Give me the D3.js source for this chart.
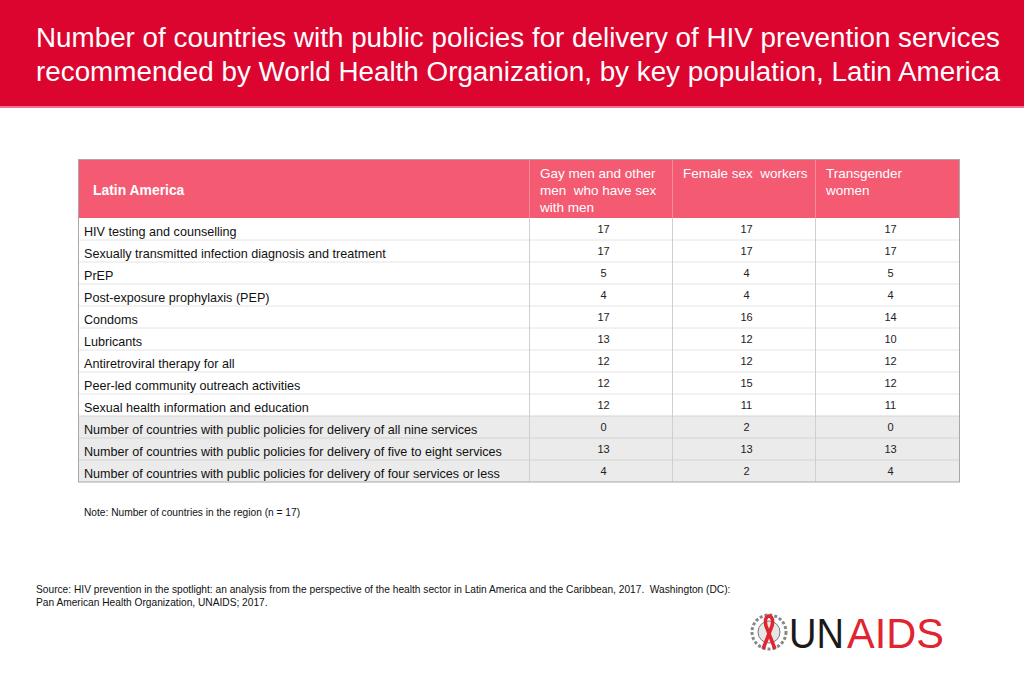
<!DOCTYPE html>
<html><head><meta charset="utf-8">
<script src="https://cdn.jsdelivr.net/npm/d3@7"></script>
<style>body{margin:0;background:#fff}svg{display:block}text{white-space:pre}</style>
</head><body>
<svg id="c" width="1024" height="683"></svg>
<script>
const titleLines = ["Number of countries with public policies for delivery of HIV prevention services",
  "recommended by World Health Organization, by key population, Latin America"];
const regionLabel = "Latin America";
const columns = [["Gay men and other","men  who have sex","with men"],["Female sex  workers"],["Transgender","women"]];
const services = ["HIV testing and counselling","Sexually transmitted infection diagnosis and treatment","PrEP",
  "Post-exposure prophylaxis (PEP)","Condoms","Lubricants","Antiretroviral therapy for all",
  "Peer-led community outreach activities","Sexual health information and education",
  "Number of countries with public policies for delivery of all nine services",
  "Number of countries with public policies for delivery of five to eight services",
  "Number of countries with public policies for delivery of four services or less"];
const msm = [17,17,5,4,17,13,12,12,12,0,13,4];
const fsw = [17,17,4,4,16,12,12,15,11,2,13,2];
const tgw = [17,17,5,4,14,10,12,12,11,0,13,4];
const summaryFrom = 9;
const note = "Note: Number of countries in the region (n = 17)";
const sourceLines = ["Source: HIV prevention in the spotlight: an analysis from the perspective of the health sector in Latin America and the Caribbean, 2017.  Washington (DC):",
  "Pan American Health Organization, UNAIDS; 2017."];

const svg = d3.select("#c");
const F = "Liberation Sans, Arial, sans-serif";

// banner
svg.append("rect").attr("x",0).attr("y",0).attr("width",1024).attr("height",106).attr("fill","#dc0530");
svg.append("rect").attr("x",0).attr("y",106).attr("width",1024).attr("height",2).attr("fill","#f5738a");
svg.selectAll("text.title").data(titleLines).join("text").attr("class","title")
  .attr("x",36).attr("y",(d,i)=>47+i*34).attr("fill","#fff").attr("font-family",F).attr("font-size",27)
  .attr("textLength",964).attr("lengthAdjust","spacingAndGlyphs").text(d=>d);

// table geometry via scales
const tableX = d3.scaleOrdinal().domain([0,1,2,3]).range([78,529,672,815]);
const colW = [451,143,143,145];
const headerTop = 160, headerH = 58;
const y = d3.scaleBand().domain(d3.range(services.length)).range([218,482]);

// header
svg.append("rect").attr("x",78).attr("y",headerTop).attr("width",882).attr("height",headerH).attr("fill","#f45a72");
svg.append("text").attr("x",93).attr("y",195).attr("fill","#fff").attr("font-family",F).attr("font-size",13.9)
  .attr("font-weight","bold").text(regionLabel);
columns.forEach((lines,ci)=>{
  svg.append("g").selectAll("text").data(lines).join("text")
   .attr("x",tableX(ci+1)+11).attr("y",(d,i)=>178+i*17).attr("fill","#fff")
   .attr("font-family",F).attr("font-size",13.5).text(d=>d);
});

// rows
const rows = svg.append("g");
services.forEach((s,i)=>{
  rows.append("rect").attr("x",78).attr("y",y(i)).attr("width",882).attr("height",y.bandwidth())
    .attr("fill", i>=summaryFrom ? "#ebebeb" : "#ffffff");
  rows.append("text").attr("x",84).attr("y",y(i)+y.bandwidth()/2+6.5).attr("font-family",F).attr("font-size",12.6)
    .attr("fill","#111").text(s);
  [msm,fsw,tgw].forEach((arr,ci)=>{
    const cx = tableX(ci+1)+colW[ci+1]/2+3;
    rows.append("text").attr("x",cx).attr("y",y(i)+y.bandwidth()/2+4).attr("text-anchor","middle")
      .attr("font-family",F).attr("font-size",11).attr("fill","#222").text(arr[i]);
  });
  if(i>0) rows.append("line").attr("x1",78).attr("x2",960).attr("y1",y(i)).attr("y2",y(i))
    .attr("stroke", i>=summaryFrom ? "#d4d4d4" : "#e4e4e4").attr("stroke-width",1);
});
// column separators
[1,2,3].forEach(ci=>{
  svg.append("line").attr("x1",tableX(ci)+0.5).attr("x2",tableX(ci)+0.5).attr("y1",218).attr("y2",482)
    .attr("stroke","#cfcfcf");
  svg.append("line").attr("x1",tableX(ci)+0.5).attr("x2",tableX(ci)+0.5).attr("y1",headerTop).attr("y2",218)
    .attr("stroke","#f78a9a");
});
svg.append("rect").attr("x",78.5).attr("y",headerTop-0.5).attr("width",881).attr("height",482-headerTop+0.5)
  .attr("fill","none").attr("stroke","#a8a8a8");

// note and source
svg.append("text").attr("x",84).attr("y",516).attr("font-family",F).attr("font-size",10.2).attr("fill","#111").text(note);
svg.selectAll("text.src").data(sourceLines).join("text").attr("class","src")
  .attr("x",36).attr("y",(d,i)=>593+i*13).attr("font-family",F).attr("font-size",10.2).attr("fill","#111").text(d=>d);

// logo
const lg = svg.append("g");
lg.append("circle").attr("cx",769).attr("cy",632).attr("r",17).attr("fill","none").attr("stroke","#888").attr("stroke-width",3)
  .attr("stroke-dasharray","3,2");
lg.append("circle").attr("cx",769).attr("cy",632).attr("r",11).attr("fill","#e6e6e6").attr("stroke","#777").attr("stroke-width",1);
lg.append("path").attr("d","M763,649 L772,626 Q774,617 769,616 Q764,617 766,626 L775,649")
  .attr("fill","none").attr("stroke","#e1242f").attr("stroke-width",3.5);
lg.append("text").attr("x",789).attr("y",648).attr("font-family",F).attr("font-size",42).attr("fill","#1a1a1a")
  .attr("textLength",55).attr("lengthAdjust","spacingAndGlyphs").text("UN");
lg.append("text").attr("x",847).attr("y",648).attr("font-family",F).attr("font-size",42).attr("fill","#e1242f")
  .attr("textLength",97).attr("lengthAdjust","spacingAndGlyphs").text("AIDS");
</script>
</body></html>
